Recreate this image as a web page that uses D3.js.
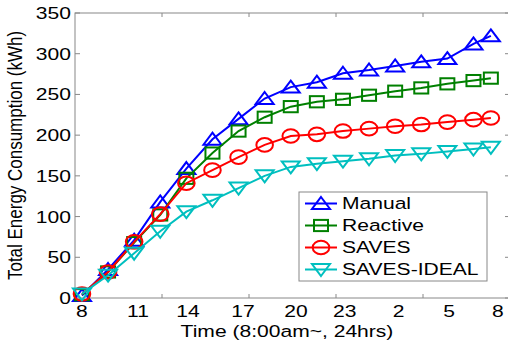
<!DOCTYPE html>
<html><head><meta charset="utf-8">
<script src="https://cdn.jsdelivr.net/npm/d3@7"></script>
<style>body{margin:0;background:#fff} text{font-family:"Liberation Sans",Arial,sans-serif;fill:#000}</style>
</head><body>
<svg id="c" width="508" height="341"></svg>
<script>
// ---- data ----
const hours = [0.4, 1.9, 3.4, 4.9, 6.4, 7.9, 9.4, 10.9, 12.4, 13.9, 15.4, 16.9, 18.4, 19.9, 21.4, 22.9, 23.9];
const manual     = [3, 35, 71, 118, 159, 195, 220, 245, 259, 265, 276, 280, 285, 290, 294, 312, 322];
const reactive   = [4, 32, 68, 102, 147, 178, 205, 222, 235, 241, 244, 249, 254, 258, 263, 267, 270];
const saves      = [5, 32, 69, 103, 141, 157, 173, 188, 199, 201, 205, 208, 211, 213, 216, 219, 221];
const savesIdeal = [5, 28, 55, 82, 106, 120, 135, 150, 161, 165, 168, 171, 175, 177, 180, 183, 185];
const seriesNames = ["Manual", "Reactive", "SAVES", "SAVES-IDEAL"];
const xTickVals = [5, 10, 15, 20];
const xLabelPos = [0.4, 3.62, 6.49, 9.66, 12.7, 15.5, 18.6, 21.5, 24.3];
const xLabels = ["8", "11", "14", "17", "20", "23", "2", "5", "8"];
const yTicks = [0, 50, 100, 150, 200, 250, 300, 350];

// ---- styles ----
const colors = ["#0000ff", "#008000", "#ff0000", "#00bfbf"];
const shapes = ["tri", "square", "circle", "tridown"];
const SX = 1.24, FS = 17;
const svg = d3.select("#c");
const L = 75, R = 510, T = 13, B = 298;
const x = d3.scaleLinear().domain([0, 25]).range([L, R]);
const y = d3.scaleLinear().domain([0, 350]).range([B, T]);
const axisColor = "#888";

svg.append("rect").attr("width", 508).attr("height", 341).attr("fill", "#fff");

// axes box
const g = svg.append("g");
g.append("rect").attr("x", L).attr("y", T).attr("width", R - L).attr("height", B - T)
  .attr("fill", "none").attr("stroke", axisColor).attr("stroke-width", 1);
// ticks
xTickVals.forEach(v => {
  g.append("line").attr("x1", x(v)).attr("x2", x(v)).attr("y1", B).attr("y2", B - 4).attr("stroke", axisColor);
  g.append("line").attr("x1", x(v)).attr("x2", x(v)).attr("y1", T).attr("y2", T + 4).attr("stroke", axisColor);
});
yTicks.forEach(v => {
  g.append("line").attr("x1", L).attr("x2", L + 5).attr("y1", y(v)).attr("y2", y(v)).attr("stroke", axisColor);
  g.append("line").attr("x1", R).attr("x2", R - 5).attr("y1", y(v)).attr("y2", y(v)).attr("stroke", axisColor);
  g.append("text").attr("transform", `translate(71,${y(v)}) scale(${SX},1)`)
    .attr("text-anchor", "end").attr("dy", "0.35em").attr("font-size", FS).text(v);
});
xLabelPos.forEach((p, i) => {
  g.append("text").attr("transform", `translate(${x(p)},317) scale(${SX},1)`)
    .attr("text-anchor", "middle").attr("font-size", FS).text(xLabels[i]);
});
svg.append("text").attr("transform", `translate(287,337) scale(${SX},1)`)
  .attr("text-anchor", "middle").attr("font-size", FS).text("Time (8:00am~, 24hrs)");
svg.append("text").attr("transform", `translate(15,${(T + B) / 2}) scale(${SX},1) rotate(-90)`)
  .attr("text-anchor", "middle").attr("dy", "0.35em").attr("font-size", FS).text("Total Energy Consumption (kWh)");

function marker(sel, shape, color) {
  if (shape === "circle") {
    sel.append("ellipse").attr("rx", 8.3).attr("ry", 6.8);
  } else if (shape === "square") {
    sel.append("rect").attr("x", -7).attr("y", -5.6).attr("width", 14).attr("height", 11.2);
  } else if (shape === "tri") {
    sel.append("path").attr("d", "M0,-6.5L9,5.5L-9,5.5Z");
  } else {
    sel.append("path").attr("d", "M0,6.5L9,-5.5L-9,-5.5Z");
  }
  sel.selectAll("*").attr("fill", "none").attr("stroke", color).attr("stroke-width", 2);
}

const allSeries = [manual, reactive, saves, savesIdeal];
const line = d3.line().x((d, i) => x(hours[i])).y(d => y(d));
allSeries.forEach((vals, s) => {
  const sg = svg.append("g");
  sg.append("path").attr("d", line(vals)).attr("fill", "none").attr("stroke", colors[s]).attr("stroke-width", 2);
  vals.forEach((v, i) => {
    const m = sg.append("g").attr("transform", `translate(${x(hours[i])},${y(v)})`);
    marker(m, shapes[s], colors[s]);
  });
});

// legend
const lg = svg.append("g");
lg.append("rect").attr("x", 299).attr("y", 192).attr("width", 188).attr("height", 89)
  .attr("fill", "#fff").attr("stroke", axisColor);
const rowY = [203.5, 225.5, 247.5, 269.5];
seriesNames.forEach((n, s) => {
  lg.append("line").attr("x1", 305).attr("x2", 337).attr("y1", rowY[s]).attr("y2", rowY[s])
    .attr("stroke", colors[s]).attr("stroke-width", 2);
  const m = lg.append("g").attr("transform", `translate(321,${rowY[s]})`);
  marker(m, shapes[s], colors[s]);
  lg.append("text").attr("transform", `translate(342,${rowY[s]}) scale(${SX},1)`)
    .attr("dy", "0.35em").attr("font-size", FS).text(n);
});
</script>
</body></html>
